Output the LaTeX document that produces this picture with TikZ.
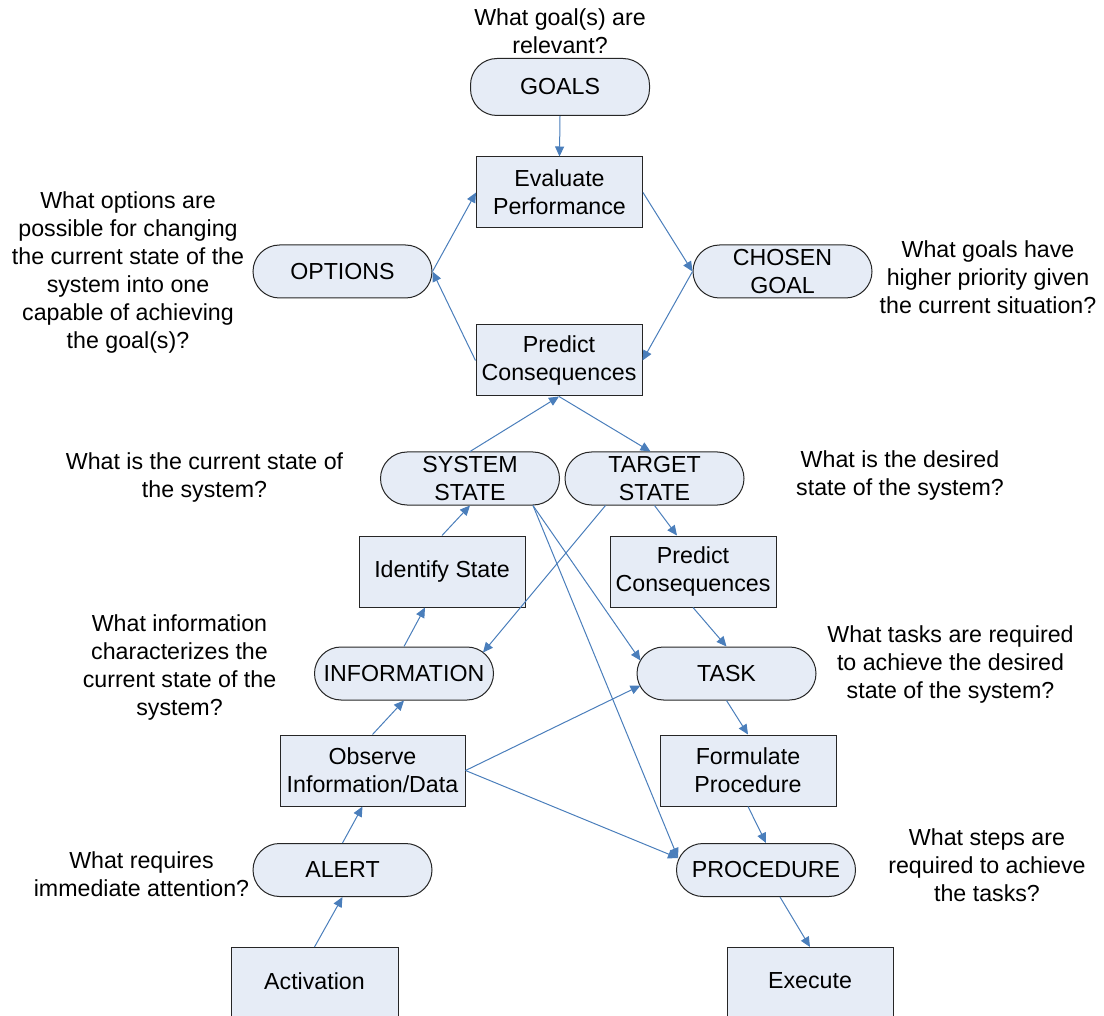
\documentclass[tikz,border=0pt]{standalone}
\usepackage{fontspec}
\setmainfont{Liberation Sans}
\usetikzlibrary{arrows.meta,calc}
\definecolor{nodefill}{RGB}{230,236,246}
\definecolor{arrowblue}{RGB}{74,126,187}
\begin{document}
\begin{tikzpicture}[x=0.5pt,y=-0.5pt,
  every node/.style={font=\fontsize{11.6pt}{14pt}\selectfont, align=center, inner sep=0pt},
  stad/.style={draw=black!85, fill=nodefill, line width=0.5pt, rounded corners=13.25pt, minimum width=89.5pt, minimum height=26.5pt},
  procbox/.style={draw=black!85, fill=nodefill, line width=0.5pt, minimum width=83pt, minimum height=35.5pt},
  boxpath/.style={draw=black!85, fill=nodefill, line width=0.5pt},
  conn/.style={draw=arrowblue, line width=0.5pt, -{Triangle[length=5pt,width=4.5pt]}},
  note/.style={}]
\useasboundingbox (0,0) rectangle (1104,1016);
\clip (0,0) rectangle (1104,1016);

% nodes
\node[stad, minimum height=28.5pt] (goals) at (560,87) {GOALS};
\node[procbox] (eval) at (559.5,192.5) {Evaluate\\Performance};
\node[stad] (options) at (342.5,271.5) {OPTIONS};
\node[stad] (chosen) at (782.5,271.5) {CHOSEN\\GOAL};
\node[procbox] (pred1) at (559,360.5) {Predict\\Consequences};
\node[stad] (sys) at (470,478.5) {SYSTEM\\STATE};
\node[stad] (target) at (654.5,478.5) {TARGET\\STATE};
\node[procbox] (ident) at (442,571.5) {Identify State};
\node[procbox] (pred2) at (693,571.5) {Predict\\Consequences};
\node[stad] (info) at (404,673.5) {INFORMATION};
\node[stad] (task) at (726.5,673.5) {TASK};
\node[procbox, minimum width=92.5pt] (obs) at (372.5,770.5) {Observe\\Information/Data};
\node[procbox, minimum width=88pt] (form) at (748,770.5) {Formulate\\Procedure};
\node[stad] (alert) at (342.5,870) {ALERT};
\node[stad] (proc) at (766,870) {PROCEDURE};

\path[boxpath] (231,947) rectangle (398,1060);
\node (act) at (314.5,981) {Activation};
\coordinate (acttop) at (314.5,947);
\path[boxpath] (727,947) rectangle (893,1060);
\node (exe) at (810,981) {Execute};
\coordinate (exetop) at (810,947);

% question texts
\node[note] (q1) at (560,31.5) {What goal(s) are\\relevant?};
\node[note] (q2) at (128,273) {What options are\\possible for changing\\the current state of the\\system into one\\capable of achieving\\the goal(s)?};
\node[note] (q3) at (988,277.5) {What goals have\\higher priority given\\the current situation?};
\node[note] (q4) at (204.5,478) {What is the current state of\\the system?};
\node[note] (q5) at (900,475.5) {What is the desired\\state of the system?};
\node[note] (q6) at (179.5,667.5) {What information\\characterizes the\\current state of the\\system?};
\node[note] (q7) at (950.5,664.5) {What tasks are required\\to achieve the desired\\state of the system?};
\node[note] (q8) at (141.5,874) {What requires\\immediate attention?};
\node[note] (q9) at (987,865.5) {What steps are\\required to achieve\\the tasks?};

% connectors
\draw[conn] (goals.south) -- (eval.north);
\draw[conn] (eval.east) -- (chosen.west);
\draw[conn] (chosen.west) -- (pred1.east);
\draw[conn] (pred1.west) -- (options.east);
\draw[conn] (options.east) -- (eval.west);
\draw[conn] (sys.north) -- (pred1.south);
\draw[conn] (pred1.south) -- ($(target.north)+(-4,0)$);
\draw[conn] (ident.north) -- (sys.south);
\draw[conn] (target.south) -- ($(pred2.north)+(-16,0)$);
\draw[conn] ($(target.south)+(-49,0)$) -- ($(info.center)+(79,-21)$);
\draw[conn] (info.north) -- ($(ident.south)+(-17,0)$);
\draw[conn] (obs.north) -- (info.south);
\draw[conn] (alert.north) -- ($(obs.south)+(-10,0)$);
\draw[conn] (acttop) -- (alert.south);
\draw[conn] ($(sys.south)+(63,0)$) -- ($(task.center)+(-86,-13)$);
\draw[conn] ($(sys.south)+(63,0)$) -- ($(proc.center)+(-88,-12)$);
\draw[conn] (obs.east) -- ($(task.center)+(-86,12)$);
\draw[conn] (obs.east) -- ($(proc.center)+(-88,-12)$);
\draw[conn] (pred2.south) -- (task.north);
\draw[conn] (task.south) -- (form.north);
\draw[conn] (form.south) -- (proc.north);
\draw[conn] ($(proc.south)+(14,0)$) -- (exetop);
\end{tikzpicture}
\end{document}
